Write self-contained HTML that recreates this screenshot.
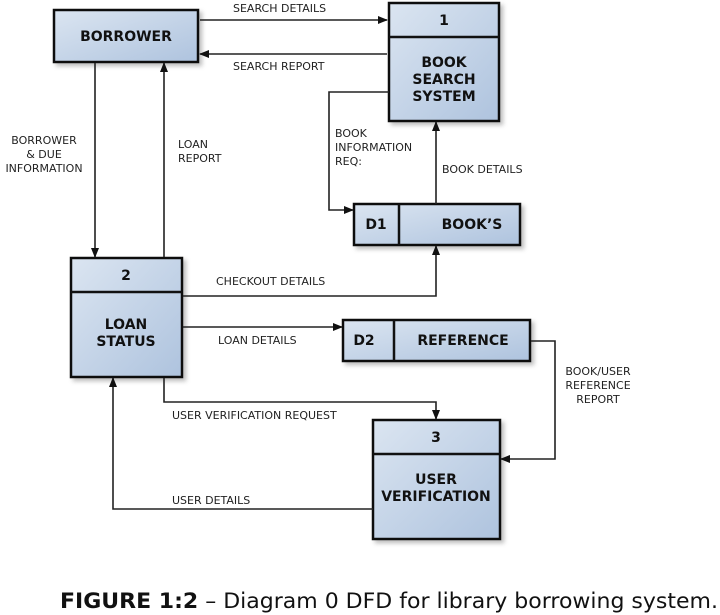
<!DOCTYPE html>
<html><head><meta charset="utf-8"><style>
html,body{margin:0;padding:0;background:#fff;width:720px;height:615px;overflow:hidden}
svg{display:block}
.b{font-family:"DejaVu Sans","Liberation Sans",sans-serif;font-weight:bold;font-size:14px;fill:#111;text-anchor:middle}
.l{font-family:"DejaVu Sans","Liberation Sans",sans-serif;font-size:11px;fill:#222}
.ln{stroke:#222;stroke-width:1.6;fill:none}
.bx{fill:url(#g);stroke:#111;stroke-width:2.5}
</style></head><body>
<svg width="720" height="615" viewBox="0 0 720 615" xmlns="http://www.w3.org/2000/svg">
<defs>
<linearGradient id="g" x1="0" y1="0" x2="1" y2="1"><stop offset="0" stop-color="#dbe5f1"/><stop offset="1" stop-color="#aec3de"/></linearGradient>
<marker id="a" markerWidth="10" markerHeight="10" refX="9" refY="5" orient="auto" markerUnits="userSpaceOnUse"><path d="M0,1 L10,5 L0,9 z" fill="#111"/></marker>
<filter id="s"><feDropShadow dx="3" dy="3" stdDeviation="2" flood-color="#000" flood-opacity="0.25"/></filter>
</defs>
<!-- boxes -->
<g filter="url(#s)">
<rect class="bx" x="54" y="10" width="144" height="52"/>
<rect class="bx" x="389" y="3" width="110" height="118"/>
<rect class="bx" x="354" y="204" width="166" height="41"/>
<rect class="bx" x="71" y="258" width="111" height="119"/>
<rect class="bx" x="343" y="320" width="187" height="41"/>
<rect class="bx" x="373" y="420" width="127" height="119"/>
</g>
<line class="ln" style="stroke-width:2.5;stroke:#111" x1="389" y1="37" x2="499" y2="37"/>
<line class="ln" style="stroke-width:2.5;stroke:#111" x1="399" y1="204" x2="399" y2="245"/>
<line class="ln" style="stroke-width:2.5;stroke:#111" x1="71" y1="292" x2="182" y2="292"/>
<line class="ln" style="stroke-width:2.5;stroke:#111" x1="394" y1="320" x2="394" y2="361"/>
<line class="ln" style="stroke-width:2.5;stroke:#111" x1="373" y1="454" x2="500" y2="454"/>
<text class="b" x="126" y="41">BORROWER</text>
<text class="b" x="444" y="25">1</text>
<text class="b" x="444" y="67">BOOK</text>
<text class="b" x="444" y="84">SEARCH</text>
<text class="b" x="444" y="101">SYSTEM</text>
<text class="b" x="376" y="229">D1</text>
<text class="b" x="472" y="229">BOOK’S</text>
<text class="b" x="126" y="280">2</text>
<text class="b" x="126" y="329">LOAN</text>
<text class="b" x="126" y="346">STATUS</text>
<text class="b" x="364" y="345">D2</text>
<text class="b" x="463" y="345">REFERENCE</text>
<text class="b" x="436" y="442">3</text>
<text class="b" x="436" y="484">USER</text>
<text class="b" x="436" y="501">VERIFICATION</text>
<!-- connectors -->
<line class="ln" x1="200" y1="20" x2="387" y2="20" marker-end="url(#a)"/>
<line class="ln" x1="387" y1="54" x2="200" y2="54" marker-end="url(#a)"/>
<line class="ln" x1="95" y1="63" x2="95" y2="257" marker-end="url(#a)"/>
<line class="ln" x1="164" y1="257" x2="164" y2="63" marker-end="url(#a)"/>
<polyline class="ln" points="389,92 329,92 329,210 353,210" marker-end="url(#a)"/>
<line class="ln" x1="436" y1="204" x2="436" y2="122" marker-end="url(#a)"/>
<polyline class="ln" points="183,296 436,296 436,246" marker-end="url(#a)"/>
<line class="ln" x1="183" y1="327" x2="342" y2="327" marker-end="url(#a)"/>
<polyline class="ln" points="164,378 164,402 436,402 436,419" marker-end="url(#a)"/>
<polyline class="ln" points="531,341 555,341 555,459 501,459" marker-end="url(#a)"/>
<polyline class="ln" points="373,509 113,509 113,378" marker-end="url(#a)"/>
<!-- labels -->
<text class="l" x="233" y="12">SEARCH DETAILS</text>
<text class="l" x="233" y="70">SEARCH REPORT</text>
<text class="l" x="44" y="144" text-anchor="middle">BORROWER</text>
<text class="l" x="44" y="158" text-anchor="middle">&amp; DUE</text>
<text class="l" x="44" y="172" text-anchor="middle">INFORMATION</text>
<text class="l" x="178" y="148">LOAN</text>
<text class="l" x="178" y="162">REPORT</text>
<text class="l" x="335" y="137">BOOK</text>
<text class="l" x="335" y="151">INFORMATION</text>
<text class="l" x="335" y="165">REQ:</text>
<text class="l" x="442" y="173">BOOK DETAILS</text>
<text class="l" x="216" y="285">CHECKOUT DETAILS</text>
<text class="l" x="218" y="344">LOAN DETAILS</text>
<text class="l" x="598" y="375" text-anchor="middle">BOOK/USER</text>
<text class="l" x="598" y="389" text-anchor="middle">REFERENCE</text>
<text class="l" x="598" y="403" text-anchor="middle">REPORT</text>
<text class="l" x="172" y="419">USER VERIFICATION REQUEST</text>
<text class="l" x="172" y="504">USER DETAILS</text>
<!-- caption -->
<text x="60" y="608" textLength="658" lengthAdjust="spacingAndGlyphs" style="font-family:'DejaVu Sans','Liberation Sans',sans-serif;font-size:21px;fill:#111"><tspan font-weight="bold">FIGURE 1:2</tspan> – Diagram 0 DFD for library borrowing system.</text>
</svg>
</body></html>
